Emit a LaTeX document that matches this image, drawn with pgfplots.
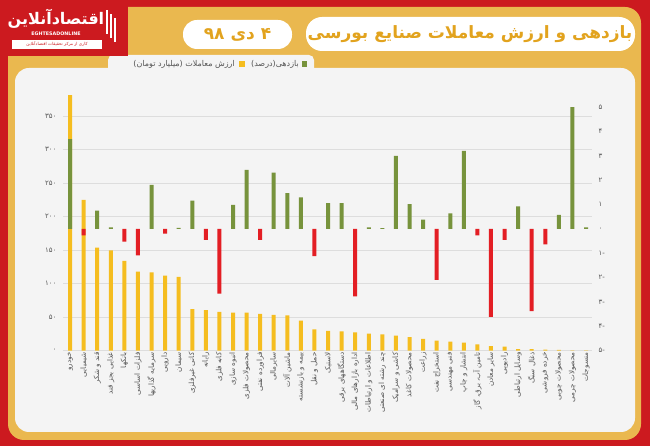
\documentclass[border=0pt]{standalone}
\usepackage{pgfplots}
\pgfplotsset{compat=1.18}
\usepackage{fontspec}
\TeXXeTstate=1
\newfontfamily\fa[Script=Arabic]{DejaVu Sans}
\definecolor{barY}{HTML}{F5BD1F}
\definecolor{barG}{HTML}{77933C}
\definecolor{barR}{HTML}{E31E24}
\definecolor{frameRed}{HTML}{CC1A1F}
\definecolor{gold}{HTML}{EAB84F}
\definecolor{panel}{HTML}{F4F4F4}
\definecolor{titleGold}{HTML}{E2A31E}
\definecolor{gridgray}{HTML}{DDDDDD}
\definecolor{labgray}{HTML}{555555}
\begin{document}
\begin{tikzpicture}
\begin{scope}[x=1pt,y=1pt]
\fill[frameRed] (0,0) rectangle (650,446);
\fill[gold, rounded corners=16] (8,6) rectangle (641,439);
\fill[panel, rounded corners=14] (15,14) rectangle (635,378);
\fill[panel, rounded corners=5] (108,372) rectangle (314,391);
\fill[white, rounded corners=16] (306,395) rectangle (635,429);
\fill[white, rounded corners=14] (183,397) rectangle (292,426);
\node[text=titleGold, font=\fa\bfseries\fontsize{17}{20}\selectfont] at (470,412) {\beginR بازدهی و ارزش معاملات صنایع بورسی\endR};
\node[text=titleGold, font=\fa\bfseries\fontsize{17}{20}\selectfont] at (237.5,411.5) {\beginR ۴ دی ۹۸\endR};
% logo
\fill[frameRed] (0,390) rectangle (128,446);
\node[text=white, font=\fa\bfseries\fontsize{16}{18}\selectfont] at (56,427) {\beginR اقتصادآنلاین\endR};
\node[text=white, font=\fa\bfseries\fontsize{4.8}{5}\selectfont] at (56,412.5) {EGHTESADONLINE};
\fill[white] (12,397) rectangle (102,406);
\node[text=frameRed, font=\fa\fontsize{4.2}{5}\selectfont] at (57,401.5) {\beginR کاری از مرکز تحقیقات اقتصادآنلاین\endR};
\fill[white] (106,412) rectangle (108,436);
\fill[white] (110,408) rectangle (112,432);
\fill[white] (114,404) rectangle (116,428);
% legend
\fill[barG] (302,379) rectangle (307,385);
\node[anchor=east, text=labgray, font=\fa\fontsize{8}{9}\selectfont, inner sep=1pt] at (300,382) {\beginR بازدهی(درصد)\endR};
\fill[barY] (239,379) rectangle (245,385);
\node[anchor=east, text=labgray, font=\fa\fontsize{8}{9}\selectfont, inner sep=1pt] at (236,382) {\beginR ارزش معاملات (میلیارد تومان)\endR};
\end{scope}

\begin{axis}[
  at={(63pt,95.3pt)}, anchor=south west,
  width=529pt, height=268pt, scale only axis,
  xmin=0.48, xmax=39.44, ymin=0, ymax=400,
  axis line style={draw=none},
  major tick length=0pt,
  ytick={0,50,100,150,200,250,300,350},
  yticklabels={۰,۵۰,۱۰۰,۱۵۰,۲۰۰,۲۵۰,۳۰۰,۳۵۰},
  yticklabel style={font=\fa\fontsize{7}{8}\selectfont, text=labgray, xshift=-3pt},
  ymajorgrids, grid style={draw=gridgray, line width=0.6pt},
  xtick={1,...,39},
  xticklabels={
    {\beginR خودرو\endR},
    {\beginR شیمیایی\endR},
    {\beginR قند و شکر\endR},
    {\beginR غذایی بجز قند\endR},
    {\beginR بانکها\endR},
    {\beginR فلزات اساسی\endR},
    {\beginR سرمایه گذاریها\endR},
    {\beginR دارویی\endR},
    {\beginR سیمان\endR},
    {\beginR کانی غیرفلزی\endR},
    {\beginR رایانه\endR},
    {\beginR کانه فلزی\endR},
    {\beginR انبوه سازی\endR},
    {\beginR محصولات فلزی\endR},
    {\beginR فراورده نفتی\endR},
    {\beginR سایرمالی\endR},
    {\beginR ماشین آلات\endR},
    {\beginR بیمه و بازنشسته\endR},
    {\beginR حمل و نقل\endR},
    {\beginR لاستیک\endR},
    {\beginR دستگاههای برقی\endR},
    {\beginR اداره بازارهای مالی\endR},
    {\beginR اطلاعات و ارتباطات\endR},
    {\beginR چند رشته ای صنعتی\endR},
    {\beginR کاشی و سرامیک\endR},
    {\beginR محصولات کاغذ\endR},
    {\beginR زراعت\endR},
    {\beginR استخراج نفت\endR},
    {\beginR فنی مهندسی\endR},
    {\beginR انتشار و چاپ\endR},
    {\beginR تامین آب، برق، گاز\endR},
    {\beginR سایر معادن\endR},
    {\beginR رادیویی\endR},
    {\beginR وسایل ارتباطی\endR},
    {\beginR ذغال سنگ\endR},
    {\beginR خرده فروشی\endR},
    {\beginR محصولات چوبی\endR},
    {\beginR محصولات چرمی\endR},
    {\beginR منسوجات\endR}},
  xticklabel style={rotate=90, anchor=east, font=\fa\fontsize{7.2}{8}\selectfont, text=labgray, inner sep=1.5pt},
  ybar, bar width=4pt,
]
\addplot[fill=barY, draw=none, bar shift=0pt] coordinates {
(1,381.6) (2,225) (3,153.7) (4,149.8) (5,133.9) (6,118) (7,117) (8,112) (9,110) (10,62)
(11,60.7) (12,58) (13,57) (14,56.7) (15,54.8) (16,53.3) (17,52.8) (18,44.8) (19,31.9) (20,29.4)
(21,29) (22,27.4) (23,25.4) (24,24.4) (25,22.4) (26,20.4) (27,17.5) (28,15) (29,13.4) (30,12)
(31,9.5) (32,7) (33,6) (34,2.5) (35,2.2) (36,1.7) (37,1.2) (38,0.6) (39,0.3)};
\end{axis}

\begin{axis}[
  at={(63pt,95.3pt)}, anchor=south west,
  width=529pt, height=268pt, scale only axis,
  xmin=0.48, xmax=39.44, ymin=-5, ymax=6,
  axis line style={draw=none},
  major tick length=0pt,
  xtick=\empty,
  ytick={-5,-4,-3,-2,-1,0,1,2,3,4,5},
  yticklabels={\mbox{۵}\mbox{-},\mbox{۴}\mbox{-},\mbox{۳}\mbox{-},\mbox{۲}\mbox{-},\mbox{۱}\mbox{-},۰,۱,۲,۳,۴,۵},
  yticklabel pos=right,
  yticklabel style={font=\fa\fontsize{7}{8}\selectfont, text=labgray, xshift=3pt},
  ybar, bar width=4pt,
]
\addplot[fill=barG, draw=none, bar shift=0pt] coordinates {
(1,3.68) (3,0.75) (4,0.06) (7,1.81) (9,0.04) (10,1.16) (13,0.98) (14,2.42) (16,2.31) (17,1.47)
(18,1.29) (20,1.06) (21,1.06) (23,0.06) (24,0.03) (25,3.0) (26,1.02) (27,0.38) (29,0.64) (30,3.2)
(34,0.92) (37,0.57) (38,5.0) (39,0.06)};
\addplot[fill=barR, draw=none, bar shift=0pt] coordinates {
(2,-0.27) (5,-0.52) (6,-1.09) (8,-0.2) (11,-0.45) (12,-2.66) (15,-0.45) (19,-1.12) (22,-2.77)
(28,-2.09) (31,-0.27) (32,-3.61) (33,-0.45) (35,-3.38) (36,-0.64)};
\end{axis}
\end{tikzpicture}
\end{document}
